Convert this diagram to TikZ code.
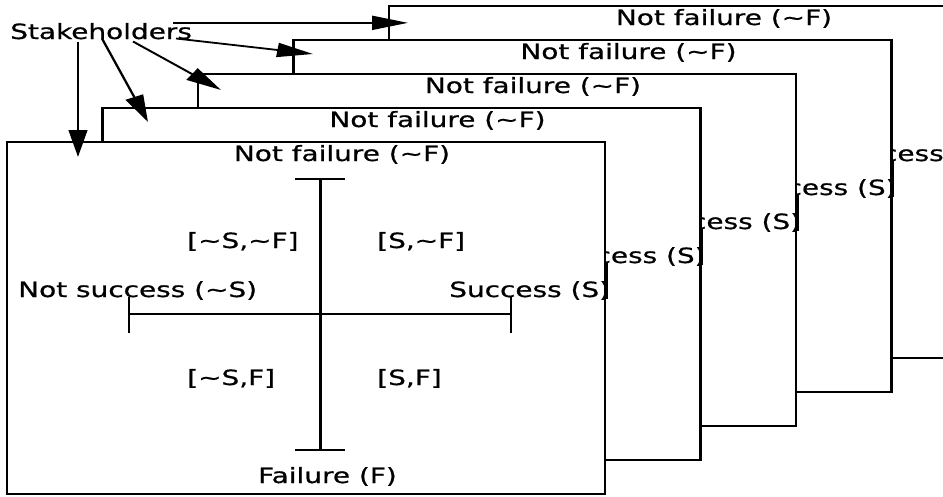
\documentclass[tikz,border=0pt]{standalone}
\usepackage{fontspec}
\setmainfont{DejaVu Sans}
\newfontfamily\lblfont{DejaVu Sans}[FakeBold=0.6]
\usetikzlibrary{arrows.meta,calc}
\newcommand\tld{\textasciitilde}
\begin{document}
\begin{tikzpicture}[x=0.75188pt,y=-1pt,
  lbl/.style={font=\lblfont\fontsize{21}{25}\selectfont, inner sep=0pt},
  panel/.style={line width=1.9pt},
  axisline/.style={line width=1.9pt},
  pointer/.style={line width=1.8pt, -{Triangle[length=27pt,width=14pt]}}]
\useasboundingbox (0pt,0pt) rectangle (943pt,-496pt);
\begin{scope}[transform canvas={xscale=1.33}]
  % stacked frames, drawn from the back one to the front one
  \foreach \i in {4,3,2,1,0}{
    \begin{scope}[shift={({7+95.5*\i},{142-34*\i})}]
      \fill[white] (0,0) rectangle (598,352);
      \begin{scope}
        \clip (0,0) rectangle (598,352);
        % axes with end bars
        \coordinate (vt\i) at (313.5,37);
        \coordinate (vb\i) at (313.5,308);
        \coordinate (hl\i) at (122,172);
        \coordinate (hr\i) at (504,172);
        \draw[axisline] (vt\i) -- (vb\i);
        \draw[axisline] (hl\i) -- (hr\i);
        \draw[axisline] ($(vt\i)+(-25.5,0)$) -- ($(vt\i)+(24.5,0)$);
        \draw[axisline] ($(vb\i)+(-25.5,0)$) -- ($(vb\i)+(24.5,0)$);
        \draw[axisline] ($(hl\i)+(0,-17)$) -- ($(hl\i)+(0,19)$);
        \draw[axisline] ($(hr\i)+(0,-17)$) -- ($(hr\i)+(0,19)$);
        % axis and quadrant labels
        \node[lbl, anchor=base] (nf\i) at (335,19) {Not failure (\tld F)};
        \node[lbl, anchor=base west] (ns\i) at (11,155) {Not success (\tld S)};
        \node[lbl, anchor=base west] (su\i) at (442,155) {Success (S)};
        \node[lbl, anchor=base west] (q1\i) at (180,106) {[\tld S,\tld F]};
        \node[lbl, anchor=base west] (q2\i) at (370,106) {[S,\tld F]};
        \node[lbl, anchor=base west] (q3\i) at (180,243) {[\tld S,F]};
        \node[lbl, anchor=base west] (q4\i) at (370,243) {[S,F]};
        \node[lbl, anchor=base] (fa\i) at (320.5,341) {Failure (F)};
      \end{scope}
      \draw[panel] (0,0) rectangle (598,352);
    \end{scope}
  }
  % stakeholders pointing at each frame
  \node[lbl, anchor=base west] (stk) at (10,39) {Stakeholders};
  \coordinate (t1) at ($(stk.north west)+(398,0)$);
  \coordinate (t2) at (313,54);
  \coordinate (t3) at (221,90);
  \coordinate (t4) at (148,122);
  \coordinate (t5) at (78,157);
  \draw[pointer] ($(stk.north west)+(163,0)$) -- (t1);
  \draw[pointer] ($(stk.south west)+(166,-1)$) -- (t2);
  \draw[pointer] ($(stk.south west)+(123,2)$) -- (t3);
  \draw[pointer] ($(stk.south west)+(92,-1)$) -- (t4);
  \draw[pointer] ($(stk.south west)+(68,2)$) -- (t5);
\end{scope}
\end{tikzpicture}
\end{document}
